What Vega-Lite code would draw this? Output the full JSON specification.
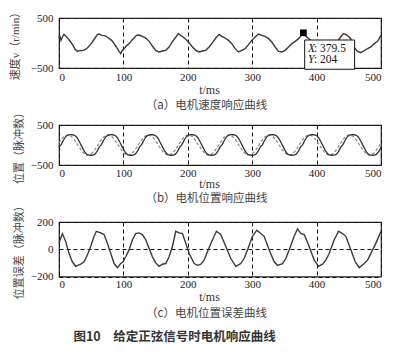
{
  "$schema": "https://vega.github.io/schema/vega-lite/v6.json",
  "background": "white",
  "padding": {"left": 8, "top": 5, "right": 5, "bottom": 5},
  "config": {
    "view": {"stroke": "#222", "strokeWidth": 1.2},
    "axis": {"labelFont": "Liberation Serif", "labelFontSize": 11, "labelColor": "#222", "titleFont": "Liberation Serif, Noto Sans CJK SC", "titleFontWeight": "normal", "titleColor": "#444", "titleFontSize": 11, "domain": false, "ticks": false, "grid": true, "gridColor": "#111", "gridDash": [4, 3], "gridWidth": 1, "gridOpacity": 1},
    "axisX": {"labelPadding": 3, "titlePadding": 2, "titleFontSize": 12, "titleColor": "#333", "titleX": 150},
    "axisY": {"labelPadding": 6, "titlePadding": 7}
  },
  "title": {"text": "图10　给定正弦信号时电机响应曲线", "orient": "bottom", "anchor": "middle", "font": "Noto Sans CJK SC", "fontSize": 12.5, "fontWeight": "bold", "color": "#333", "offset": 11, "dx": -22},
  "datasets": {
    "speed": [
      {"t":0,"v":87},{"t":1,"v":153},{"t":3.1,"v":53},{"t":5.2,"v":120},{"t":7.8,"v":173},{"t":10.4,"v":140},{"t":14,"v":87},{"t":18.1,"v":20},{"t":21.8,"v":-47},{"t":24.9,"v":-127},{"t":28.5,"v":-167},{"t":32.1,"v":-147},{"t":36.3,"v":-153},{"t":40.4,"v":-133},{"t":44,"v":-100},{"t":47.7,"v":-47},{"t":51.8,"v":20},{"t":55.9,"v":100},{"t":59.6,"v":167},{"t":62.2,"v":180},{"t":66.3,"v":153},{"t":71.5,"v":147},{"t":76.7,"v":100},{"t":81.8,"v":53},{"t":85.5,"v":-13},{"t":89.1,"v":-80},{"t":93.2,"v":-167},{"t":95.8,"v":-213},{"t":98.4,"v":-147},{"t":101,"v":-113},{"t":104.6,"v":-60},{"t":108.8,"v":-13},{"t":112.9,"v":53},{"t":116.6,"v":100},{"t":120.2,"v":153},{"t":124.3,"v":160},{"t":129.5,"v":133},{"t":134.7,"v":100},{"t":139.9,"v":33},{"t":145,"v":-60},{"t":150.2,"v":-147},{"t":155.4,"v":-180},{"t":160.6,"v":-160},{"t":165.8,"v":-147},{"t":170.9,"v":-80},{"t":175.1,"v":7},{"t":180.3,"v":100},{"t":185.4,"v":187},{"t":189.1,"v":153},{"t":192.7,"v":120},{"t":196.8,"v":73},{"t":202,"v":7},{"t":207.2,"v":-80},{"t":212.4,"v":-147},{"t":217.6,"v":-180},{"t":222.7,"v":-160},{"t":227.9,"v":-147},{"t":233.1,"v":-80},{"t":238.3,"v":7},{"t":243.5,"v":100},{"t":248.6,"v":173},{"t":252.8,"v":133},{"t":258,"v":100},{"t":263.1,"v":53},{"t":268.3,"v":-13},{"t":273.5,"v":-113},{"t":278.7,"v":-180},{"t":283.9,"v":-147},{"t":289,"v":-113},{"t":294.2,"v":-33},{"t":299.4,"v":53},{"t":304.6,"v":120},{"t":309.8,"v":180},{"t":315,"v":153},{"t":320.1,"v":133},{"t":325.3,"v":87},{"t":330.5,"v":20},{"t":335.7,"v":-80},{"t":340.8,"v":-167},{"t":346,"v":-180},{"t":351.2,"v":-147},{"t":356.4,"v":-80},{"t":361.6,"v":-13},{"t":366.7,"v":33},{"t":371.9,"v":87},{"t":376,"v":150},{"t":379.5,"v":204},{"t":382,"v":150},{"t":386,"v":110},{"t":390,"v":60},{"t":395,"v":-10},{"t":400,"v":-90},{"t":405,"v":-160},{"t":410,"v":-190},{"t":415,"v":-165},{"t":420,"v":-145},{"t":425,"v":-100},{"t":430,"v":-20},{"t":435,"v":80},{"t":439,"v":150},{"t":442,"v":190},{"t":447,"v":160},{"t":452,"v":100},{"t":456,"v":20},{"t":459,"v":-100},{"t":463.6,"v":-167},{"t":468.8,"v":-193},{"t":474,"v":-150},{"t":479.2,"v":-113},{"t":484.3,"v":-80},{"t":489.5,"v":-13},{"t":494.7,"v":33},{"t":500,"v":153}
    ],
    "pos": [
      {"t":0,"a":-55,"r":50},{"t":0.5,"a":-40,"r":62},
      {"t":3,"a":0,"r":120},{"t":5.5,"a":78,"r":171},{"t":8,"a":150,"r":211},{"t":10.5,"a":208,"r":238},{"t":13,"a":242,"r":250},{"t":15.5,"a":254,"r":246},{"t":18,"a":258,"r":226},{"t":20.5,"a":256,"r":193},{"t":23,"a":248,"r":147},{"t":25.5,"a":228,"r":92},{"t":28,"a":182,"r":31},{"t":30.5,"a":115,"r":-31},{"t":33,"a":38,"r":-92},{"t":35.5,"a":-40,"r":-147},{"t":38,"a":-118,"r":-193},{"t":40.5,"a":-185,"r":-226},{"t":43,"a":-232,"r":-246},{"t":45.5,"a":-250,"r":-250},{"t":48,"a":-256,"r":-238},{"t":50.5,"a":-256,"r":-211},{"t":53,"a":-250,"r":-171},{"t":55.5,"a":-232,"r":-120},{"t":58,"a":-185,"r":-62},{"t":60.5,"a":-118,"r":0},{"t":63,"a":-40,"r":62},
      {"t":65.5,"a":0,"r":120},{"t":68,"a":78,"r":171},{"t":70.5,"a":150,"r":211},{"t":73,"a":208,"r":238},{"t":75.5,"a":242,"r":250},{"t":78,"a":254,"r":246},{"t":80.5,"a":258,"r":226},{"t":83,"a":256,"r":193},{"t":85.5,"a":248,"r":147},{"t":88,"a":228,"r":92},{"t":90.5,"a":182,"r":31},{"t":93,"a":115,"r":-31},{"t":95.5,"a":38,"r":-92},{"t":98,"a":-40,"r":-147},{"t":100.5,"a":-118,"r":-193},{"t":103,"a":-185,"r":-226},{"t":105.5,"a":-232,"r":-246},{"t":108,"a":-250,"r":-250},{"t":110.5,"a":-256,"r":-238},{"t":113,"a":-256,"r":-211},{"t":115.5,"a":-250,"r":-171},{"t":118,"a":-232,"r":-120},{"t":120.5,"a":-185,"r":-62},{"t":123,"a":-118,"r":0},{"t":125.5,"a":-40,"r":62},
      {"t":128,"a":0,"r":120},{"t":130.5,"a":78,"r":171},{"t":133,"a":150,"r":211},{"t":135.5,"a":208,"r":238},{"t":138,"a":242,"r":250},{"t":140.5,"a":254,"r":246},{"t":143,"a":258,"r":226},{"t":145.5,"a":256,"r":193},{"t":148,"a":248,"r":147},{"t":150.5,"a":228,"r":92},{"t":153,"a":182,"r":31},{"t":155.5,"a":115,"r":-31},{"t":158,"a":38,"r":-92},{"t":160.5,"a":-40,"r":-147},{"t":163,"a":-118,"r":-193},{"t":165.5,"a":-185,"r":-226},{"t":168,"a":-232,"r":-246},{"t":170.5,"a":-250,"r":-250},{"t":173,"a":-256,"r":-238},{"t":175.5,"a":-256,"r":-211},{"t":178,"a":-250,"r":-171},{"t":180.5,"a":-232,"r":-120},{"t":183,"a":-185,"r":-62},{"t":185.5,"a":-118,"r":0},{"t":188,"a":-40,"r":62},
      {"t":190.5,"a":0,"r":120},{"t":193,"a":78,"r":171},{"t":195.5,"a":150,"r":211},{"t":198,"a":208,"r":238},{"t":200.5,"a":242,"r":250},{"t":203,"a":254,"r":246},{"t":205.5,"a":258,"r":226},{"t":208,"a":256,"r":193},{"t":210.5,"a":248,"r":147},{"t":213,"a":228,"r":92},{"t":215.5,"a":182,"r":31},{"t":218,"a":115,"r":-31},{"t":220.5,"a":38,"r":-92},{"t":223,"a":-40,"r":-147},{"t":225.5,"a":-118,"r":-193},{"t":228,"a":-185,"r":-226},{"t":230.5,"a":-232,"r":-246},{"t":233,"a":-250,"r":-250},{"t":235.5,"a":-256,"r":-238},{"t":238,"a":-256,"r":-211},{"t":240.5,"a":-250,"r":-171},{"t":243,"a":-232,"r":-120},{"t":245.5,"a":-185,"r":-62},{"t":248,"a":-118,"r":0},{"t":250.5,"a":-40,"r":62},
      {"t":253,"a":0,"r":120},{"t":255.5,"a":78,"r":171},{"t":258,"a":150,"r":211},{"t":260.5,"a":208,"r":238},{"t":263,"a":242,"r":250},{"t":265.5,"a":254,"r":246},{"t":268,"a":258,"r":226},{"t":270.5,"a":256,"r":193},{"t":273,"a":248,"r":147},{"t":275.5,"a":228,"r":92},{"t":278,"a":182,"r":31},{"t":280.5,"a":115,"r":-31},{"t":283,"a":38,"r":-92},{"t":285.5,"a":-40,"r":-147},{"t":288,"a":-118,"r":-193},{"t":290.5,"a":-185,"r":-226},{"t":293,"a":-232,"r":-246},{"t":295.5,"a":-250,"r":-250},{"t":298,"a":-256,"r":-238},{"t":300.5,"a":-256,"r":-211},{"t":303,"a":-250,"r":-171},{"t":305.5,"a":-232,"r":-120},{"t":308,"a":-185,"r":-62},{"t":310.5,"a":-118,"r":0},{"t":313,"a":-40,"r":62},
      {"t":315.5,"a":0,"r":120},{"t":318,"a":78,"r":171},{"t":320.5,"a":150,"r":211},{"t":323,"a":208,"r":238},{"t":325.5,"a":242,"r":250},{"t":328,"a":254,"r":246},{"t":330.5,"a":258,"r":226},{"t":333,"a":256,"r":193},{"t":335.5,"a":248,"r":147},{"t":338,"a":228,"r":92},{"t":340.5,"a":182,"r":31},{"t":343,"a":115,"r":-31},{"t":345.5,"a":38,"r":-92},{"t":348,"a":-40,"r":-147},{"t":350.5,"a":-118,"r":-193},{"t":353,"a":-185,"r":-226},{"t":355.5,"a":-232,"r":-246},{"t":358,"a":-250,"r":-250},{"t":360.5,"a":-256,"r":-238},{"t":363,"a":-256,"r":-211},{"t":365.5,"a":-250,"r":-171},{"t":368,"a":-232,"r":-120},{"t":370.5,"a":-185,"r":-62},{"t":373,"a":-118,"r":0},{"t":375.5,"a":-40,"r":62},
      {"t":378,"a":0,"r":120},{"t":380.5,"a":78,"r":171},{"t":383,"a":150,"r":211},{"t":385.5,"a":208,"r":238},{"t":388,"a":242,"r":250},{"t":390.5,"a":254,"r":246},{"t":393,"a":258,"r":226},{"t":395.5,"a":256,"r":193},{"t":398,"a":248,"r":147},{"t":400.5,"a":228,"r":92},{"t":403,"a":182,"r":31},{"t":405.5,"a":115,"r":-31},{"t":408,"a":38,"r":-92},{"t":410.5,"a":-40,"r":-147},{"t":413,"a":-118,"r":-193},{"t":415.5,"a":-185,"r":-226},{"t":418,"a":-232,"r":-246},{"t":420.5,"a":-250,"r":-250},{"t":423,"a":-256,"r":-238},{"t":425.5,"a":-256,"r":-211},{"t":428,"a":-250,"r":-171},{"t":430.5,"a":-232,"r":-120},{"t":433,"a":-185,"r":-62},{"t":435.5,"a":-118,"r":0},{"t":438,"a":-40,"r":62},
      {"t":440.5,"a":0,"r":120},{"t":443,"a":78,"r":171},{"t":445.5,"a":150,"r":211},{"t":448,"a":208,"r":238},{"t":450.5,"a":242,"r":250},{"t":453,"a":254,"r":246},{"t":455.5,"a":258,"r":226},{"t":458,"a":256,"r":193},{"t":460.5,"a":248,"r":147},{"t":463,"a":228,"r":92},{"t":465.5,"a":182,"r":31},{"t":468,"a":115,"r":-31},{"t":470.5,"a":38,"r":-92},{"t":473,"a":-40,"r":-147},{"t":475.5,"a":-118,"r":-193},{"t":478,"a":-185,"r":-226},{"t":480.5,"a":-232,"r":-246},{"t":483,"a":-250,"r":-250},{"t":485.5,"a":-256,"r":-238},{"t":488,"a":-256,"r":-211},{"t":490.5,"a":-250,"r":-171},{"t":493,"a":-232,"r":-120},{"t":495.5,"a":-185,"r":-62},{"t":498,"a":-118,"r":0},{"t":500,"a":-48,"r":55}
    ],
    "err": [
      {"t":0,"e":45},{"t":5.2,"e":115},{"t":10.4,"e":57},{"t":15.5,"e":-30},{"t":20.7,"e":-92},{"t":25.9,"e":-125},{"t":33.7,"e":-110},{"t":38.9,"e":-92},{"t":44,"e":-42},{"t":49.2,"e":20},{"t":54.4,"e":95},{"t":58,"e":132},{"t":64.8,"e":120},{"t":69.9,"e":108},{"t":75.1,"e":45},{"t":80.3,"e":-30},{"t":85.5,"e":-105},{"t":90.7,"e":-135},{"t":95.8,"e":-105},{"t":99.5,"e":-92},{"t":103.6,"e":-55},{"t":108.8,"e":-5},{"t":114,"e":70},{"t":119.1,"e":115},{"t":124.3,"e":120},{"t":129.5,"e":108},{"t":134.7,"e":70},{"t":139.9,"e":8},{"t":145,"e":-55},{"t":150.2,"e":-100},{"t":155.4,"e":-125},{"t":160.6,"e":-110},{"t":165.8,"e":-105},{"t":170.9,"e":-55},{"t":176.1,"e":20},{"t":181.3,"e":132},{"t":186.5,"e":120},{"t":191.7,"e":115},{"t":196.8,"e":45},{"t":202,"e":-30},{"t":209.8,"e":-105},{"t":215,"e":-118},{"t":220.2,"e":-110},{"t":225.3,"e":-80},{"t":230.5,"e":-18},{"t":238.3,"e":70},{"t":244.5,"e":132},{"t":251.2,"e":108},{"t":259,"e":20},{"t":266.8,"e":-68},{"t":274.5,"e":-125},{"t":282.3,"e":-105},{"t":287.5,"e":-68},{"t":292.7,"e":-5},{"t":300.4,"e":95},{"t":307.2,"e":140},{"t":313.4,"e":115},{"t":318.6,"e":95},{"t":326.4,"e":-5},{"t":334.1,"e":-92},{"t":339.3,"e":-118},{"t":347.1,"e":-105},{"t":352.2,"e":-68},{"t":357.4,"e":-5},{"t":365.2,"e":95},{"t":370.4,"e":150},{"t":375.6,"e":115},{"t":380.8,"e":108},{"t":388.5,"e":20},{"t":396.3,"e":-80},{"t":403,"e":-125},{"t":409.2,"e":-110},{"t":414.4,"e":-80},{"t":419.6,"e":-30},{"t":427.4,"e":70},{"t":434.1,"e":132},{"t":440.3,"e":115},{"t":445.5,"e":95},{"t":453.3,"e":-5},{"t":460,"e":-92},{"t":466.2,"e":-135},{"t":474,"e":-105},{"t":479.2,"e":-80},{"t":484.3,"e":-30},{"t":492.1,"e":45},{"t":500,"e":132}
    ]
  },
  "bounds": "flush",
  "spacing": 57,
  "vconcat": [
    {
      "width": 322, "height": 50,
      "title": {"text": "（a）电机速度响应曲线", "orient": "bottom", "anchor": "middle", "font": "Noto Sans CJK SC", "fontSize": 11.5, "fontWeight": "normal", "color": "#444", "offset": 5, "dx": -13.5},
      "layer": [
        {"data": {"name": "speed"}, "mark": {"type": "line", "color": "#3a3a3a", "strokeWidth": 1.4},
         "encoding": {
           "x": {"field": "t", "type": "quantitative", "scale": {"domain": [0, 500], "nice": false}, "axis": {"values": [0, 100, 200, 300, 400, 500], "title": "t/ms"}},
           "y": {"field": "v", "type": "quantitative", "scale": {"domain": [-500, 500], "nice": false}, "axis": {"values": [-500, 0, 500], "title": "速度v（r/min）", "titlePadding": 10}}}},
        {"data": {"values": [{"t": 379.5, "v": 204}]}, "mark": {"type": "point", "shape": "square", "filled": true, "color": "#000", "size": 45, "opacity": 1},
         "encoding": {"x": {"field": "t", "type": "quantitative"}, "y": {"field": "v", "type": "quantitative"}}},
        {"data": {"values": [{"t0": 381.5, "t1": 459, "v0": 60, "v1": -525}]}, "mark": {"type": "rect", "fill": "white", "stroke": "#111", "strokeWidth": 1, "clip": false},
         "encoding": {"x": {"field": "t0", "type": "quantitative"}, "x2": {"field": "t1"}, "y": {"field": "v0", "type": "quantitative"}, "y2": {"field": "v1"}}},
        {"data": {"values": [{"t": 386.5, "v": -126, "s": "X"}, {"t": 386.5, "v": -340, "s": "Y"}]}, "mark": {"type": "text", "align": "left", "baseline": "middle", "font": "Liberation Serif", "fontStyle": "italic", "fontSize": 11.5, "color": "#111"},
         "encoding": {"x": {"field": "t", "type": "quantitative"}, "y": {"field": "v", "type": "quantitative"}, "text": {"field": "s"}}},
        {"data": {"values": [{"t": 396, "v": -126, "s": ": 379.5"}, {"t": 396, "v": -340, "s": ": 204"}]}, "mark": {"type": "text", "align": "left", "baseline": "middle", "font": "Liberation Serif", "fontSize": 11.5, "color": "#111"},
         "encoding": {"x": {"field": "t", "type": "quantitative"}, "y": {"field": "v", "type": "quantitative"}, "text": {"field": "s"}}}
      ]
    },
    {
      "width": 322, "height": 40,
      "title": {"text": "（b）电机位置响应曲线", "orient": "bottom", "anchor": "middle", "font": "Noto Sans CJK SC", "fontSize": 11.5, "fontWeight": "normal", "color": "#444", "offset": 4, "dx": -13.5},
      "data": {"name": "pos"},
      "layer": [
        {"mark": {"type": "line", "color": "#888", "strokeWidth": 1.2, "strokeDash": [3, 2], "interpolate": "monotone"},
         "encoding": {
           "x": {"field": "t", "type": "quantitative", "scale": {"domain": [0, 500], "nice": false}, "axis": {"values": [0, 100, 200, 300, 400, 500], "title": "t/ms", "labelPadding": 2, "titlePadding": 0}},
           "y": {"field": "r", "type": "quantitative", "scale": {"domain": [-500, 500], "nice": false}, "axis": {"values": [-500, 0, 500], "title": "位置（脉冲数）", "titlePadding": 6}}}},
        {"mark": {"type": "line", "color": "#333", "strokeWidth": 1.3, "interpolate": "monotone"},
         "encoding": {"x": {"field": "t", "type": "quantitative"}, "y": {"field": "a", "type": "quantitative"}}}
      ]
    },
    {
      "width": 322, "height": 54.5,
      "title": {"text": "（c）电机位置误差曲线", "orient": "bottom", "anchor": "middle", "font": "Noto Sans CJK SC", "fontSize": 11.5, "fontWeight": "normal", "color": "#444", "offset": 5, "dx": -13.5},
      "data": {"name": "err"},
      "mark": {"type": "line", "color": "#3a3a3a", "strokeWidth": 1.4},
      "encoding": {
        "x": {"field": "t", "type": "quantitative", "scale": {"domain": [0, 500], "nice": false}, "axis": {"values": [0, 100, 200, 300, 400, 500], "title": "t/ms", "labelPadding": 2}},
        "y": {"field": "e", "type": "quantitative", "scale": {"domain": [-200, 200], "nice": false}, "axis": {"values": [-200, 0, 200], "title": "位置误差（脉冲数）", "titlePadding": 6}}
      }
    }
  ]
}
